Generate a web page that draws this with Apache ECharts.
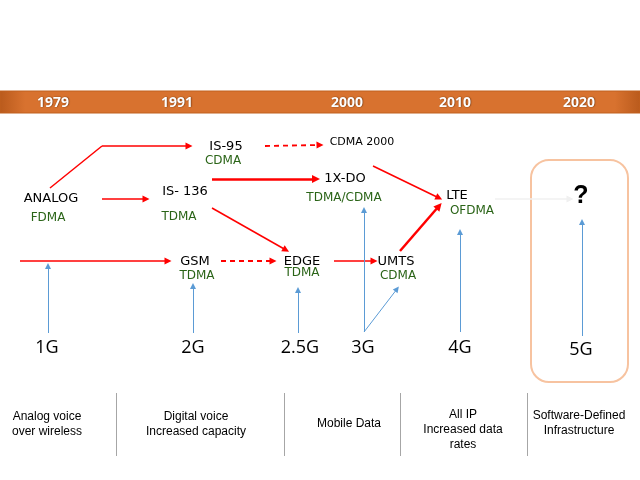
<!DOCTYPE html>
<html><head><meta charset="utf-8">
<script src="https://cdn.jsdelivr.net/npm/echarts@6/dist/echarts.min.js"></script>
<style>html,body{margin:0;padding:0;background:#fff}#c{width:640px;height:480px}</style>
</head><body><div id="c"></div>
<script>
// Timeline years [label, x, y]
const years = [['1979',53,103],['1991',177,103],['2000',347,103],['2010',455,103],['2020',579,103]];
// Technology nodes [label, x, y]
const techNodes = [['ANALOG',51,199],['IS-95',226,147],['IS- 136',185,192],['1X-DO',345,179],['GSM',195,262],['EDGE',302,262],['UMTS',396,262],['LTE',457,196]];
const smallNodes = [['CDMA 2000',362,142]];
// Access schemes [label, x, y]
const accessLabels = [['FDMA',48,218],['CDMA',223,161],['TDMA',179,217],['TDMA/CDMA',344,198],['TDMA',197,276],['TDMA',302,273],['CDMA',398,276],['OFDMA',472,211]];
// Generation labels
const generations = [['1G',47,348],['2G',193,348],['2.5G',300,348],['3G',363,348],['4G',460,348],['5G',581,350]];
// Descriptions (center x, center y)
const descriptions = [['Analog voice\nover wireless',47,424],['Digital voice\nIncreased capacity',196,424],['Mobile Data',349,424],['All IP\nIncreased data\nrates',463,430],['Software-Defined\nInfrastructure',579,423]];
// Evolution arrows
const redPlain = [[[50,188],[102,146]]];
const redThin = [[[102,146],[189,146]],[[102,199],[146,199]],[[212,208],[286,250]],[[20,261],[168,261]],[[334,261],[374,261]],[[373,166],[439,198]]];
const redThick = [[[212,179],[316,179]],[[400,251],[439,206]]];
const redDashed = [[[265,146],[320,145]],[[221,261],[273,261]]];
const blueArrows = [[[48,333],[48,266]],[[193,333],[193,286]],[[298,333],[298,290]],[[364,332],[364,210]],[[364,332],[397,289]],[[460,332],[460,232]],[[582,336],[582,222]]];
const faintArrows = [[[495,199],[570,199]]];
const dividers = [[[116,393],[116,456]],[[284,393],[284,456]],[[400,393],[400,456]],[[527,393],[527,456]]];
const band = [[0,91,640,113]];
const futureBox = [[531,160,628,382]];
const question = [['?',581,196]];

const chart = echarts.init(document.getElementById('c'));
function textSeries(arr, label, z){
  return {type:'scatter', symbolSize:0, z:z||5, silent:true, itemStyle:{opacity:1},
    data: arr.map(d=>({value:[d[1],d[2]], name:d[0]})),
    label: Object.assign({show:true, position:'inside', formatter:p=>p.name, align:'center', verticalAlign:'middle', opacity:1}, label)};
}
function lineSeries(arr, style, arrow, size){
  return {type:'lines', coordinateSystem:'cartesian2d', silent:true, z:3,
    symbol: arrow ? ['none','triangle'] : ['none','none'], symbolSize: size||7,
    lineStyle: Object.assign({opacity:1, curveness:0}, style), data: arr.map(c=>({coords:c}))};
}
function rectSeries(arr, styleFn, z){
  return {type:'custom', silent:true, z:z||1, data:arr,
    renderItem:(params, api)=>{
      const p1 = api.coord([api.value(0), api.value(1)]);
      const p2 = api.coord([api.value(2), api.value(3)]);
      return styleFn(p1, p2);
    }};
}
chart.setOption({
  animation:false,
  grid:{left:0,right:0,top:0,bottom:0},
  xAxis:{type:'value',min:0,max:640,show:false},
  yAxis:{type:'value',min:0,max:480,inverse:true,show:false},
  series:[
    rectSeries(band,(p1,p2)=>({type:'rect',shape:{x:p1[0],y:p1[1],width:p2[0]-p1[0],height:p2[1]-p1[1]},
      style:{fill:new echarts.graphic.LinearGradient(0,0,1,0,[{offset:0,color:'#b95a1c'},{offset:0.04,color:'#d8722f'},{offset:0.96,color:'#d8722f'},{offset:1,color:'#b95a1c'}]),
        stroke:'#c0611f', lineWidth:1}})),
    rectSeries(futureBox,(p1,p2)=>({type:'rect',shape:{x:p1[0],y:p1[1],width:p2[0]-p1[0],height:p2[1]-p1[1],r:18},
      style:{fill:'none',stroke:'#f7c3a0',lineWidth:2}})),
    lineSeries(redPlain,{color:'#ff0000',width:1.5},false),
    lineSeries(redThin,{color:'#ff0000',width:1.5},true,7),
    lineSeries(redThick,{color:'#ff0000',width:2.5},true,8),
    lineSeries(redDashed,{color:'#ff0000',width:1.8,type:[5,4]},true,7),
    lineSeries(blueArrows,{color:'#5b9bd5',width:1},true,6),
    lineSeries(faintArrows,{color:'#f0f0f0',width:1.5},true,7),
    lineSeries(dividers,{color:'#a6a6a6',width:1},false),
    textSeries(years,{color:'#ffffff',fontFamily:'Open Sans',fontWeight:'bold',fontSize:14,textShadowColor:'rgba(80,30,0,0.9)',textShadowBlur:1.5,textShadowOffsetX:0.5,textShadowOffsetY:0.5}),
    textSeries(techNodes,{color:'#000000',fontFamily:'DejaVu Sans',fontSize:13}),
    textSeries(smallNodes,{color:'#000000',fontFamily:'DejaVu Sans',fontSize:11}),
    textSeries(accessLabels,{color:'#2a6417',fontFamily:'DejaVu Sans',fontSize:12}),
    textSeries(generations,{color:'#000000',fontFamily:'Open Sans',fontSize:18}),
    textSeries(descriptions,{color:'#000000',fontFamily:'Liberation Sans',fontSize:12,lineHeight:15}),
    textSeries(question,{color:'#000000',fontFamily:'Liberation Sans',fontWeight:'bold',fontSize:25})
  ]
});
</script></body></html>
